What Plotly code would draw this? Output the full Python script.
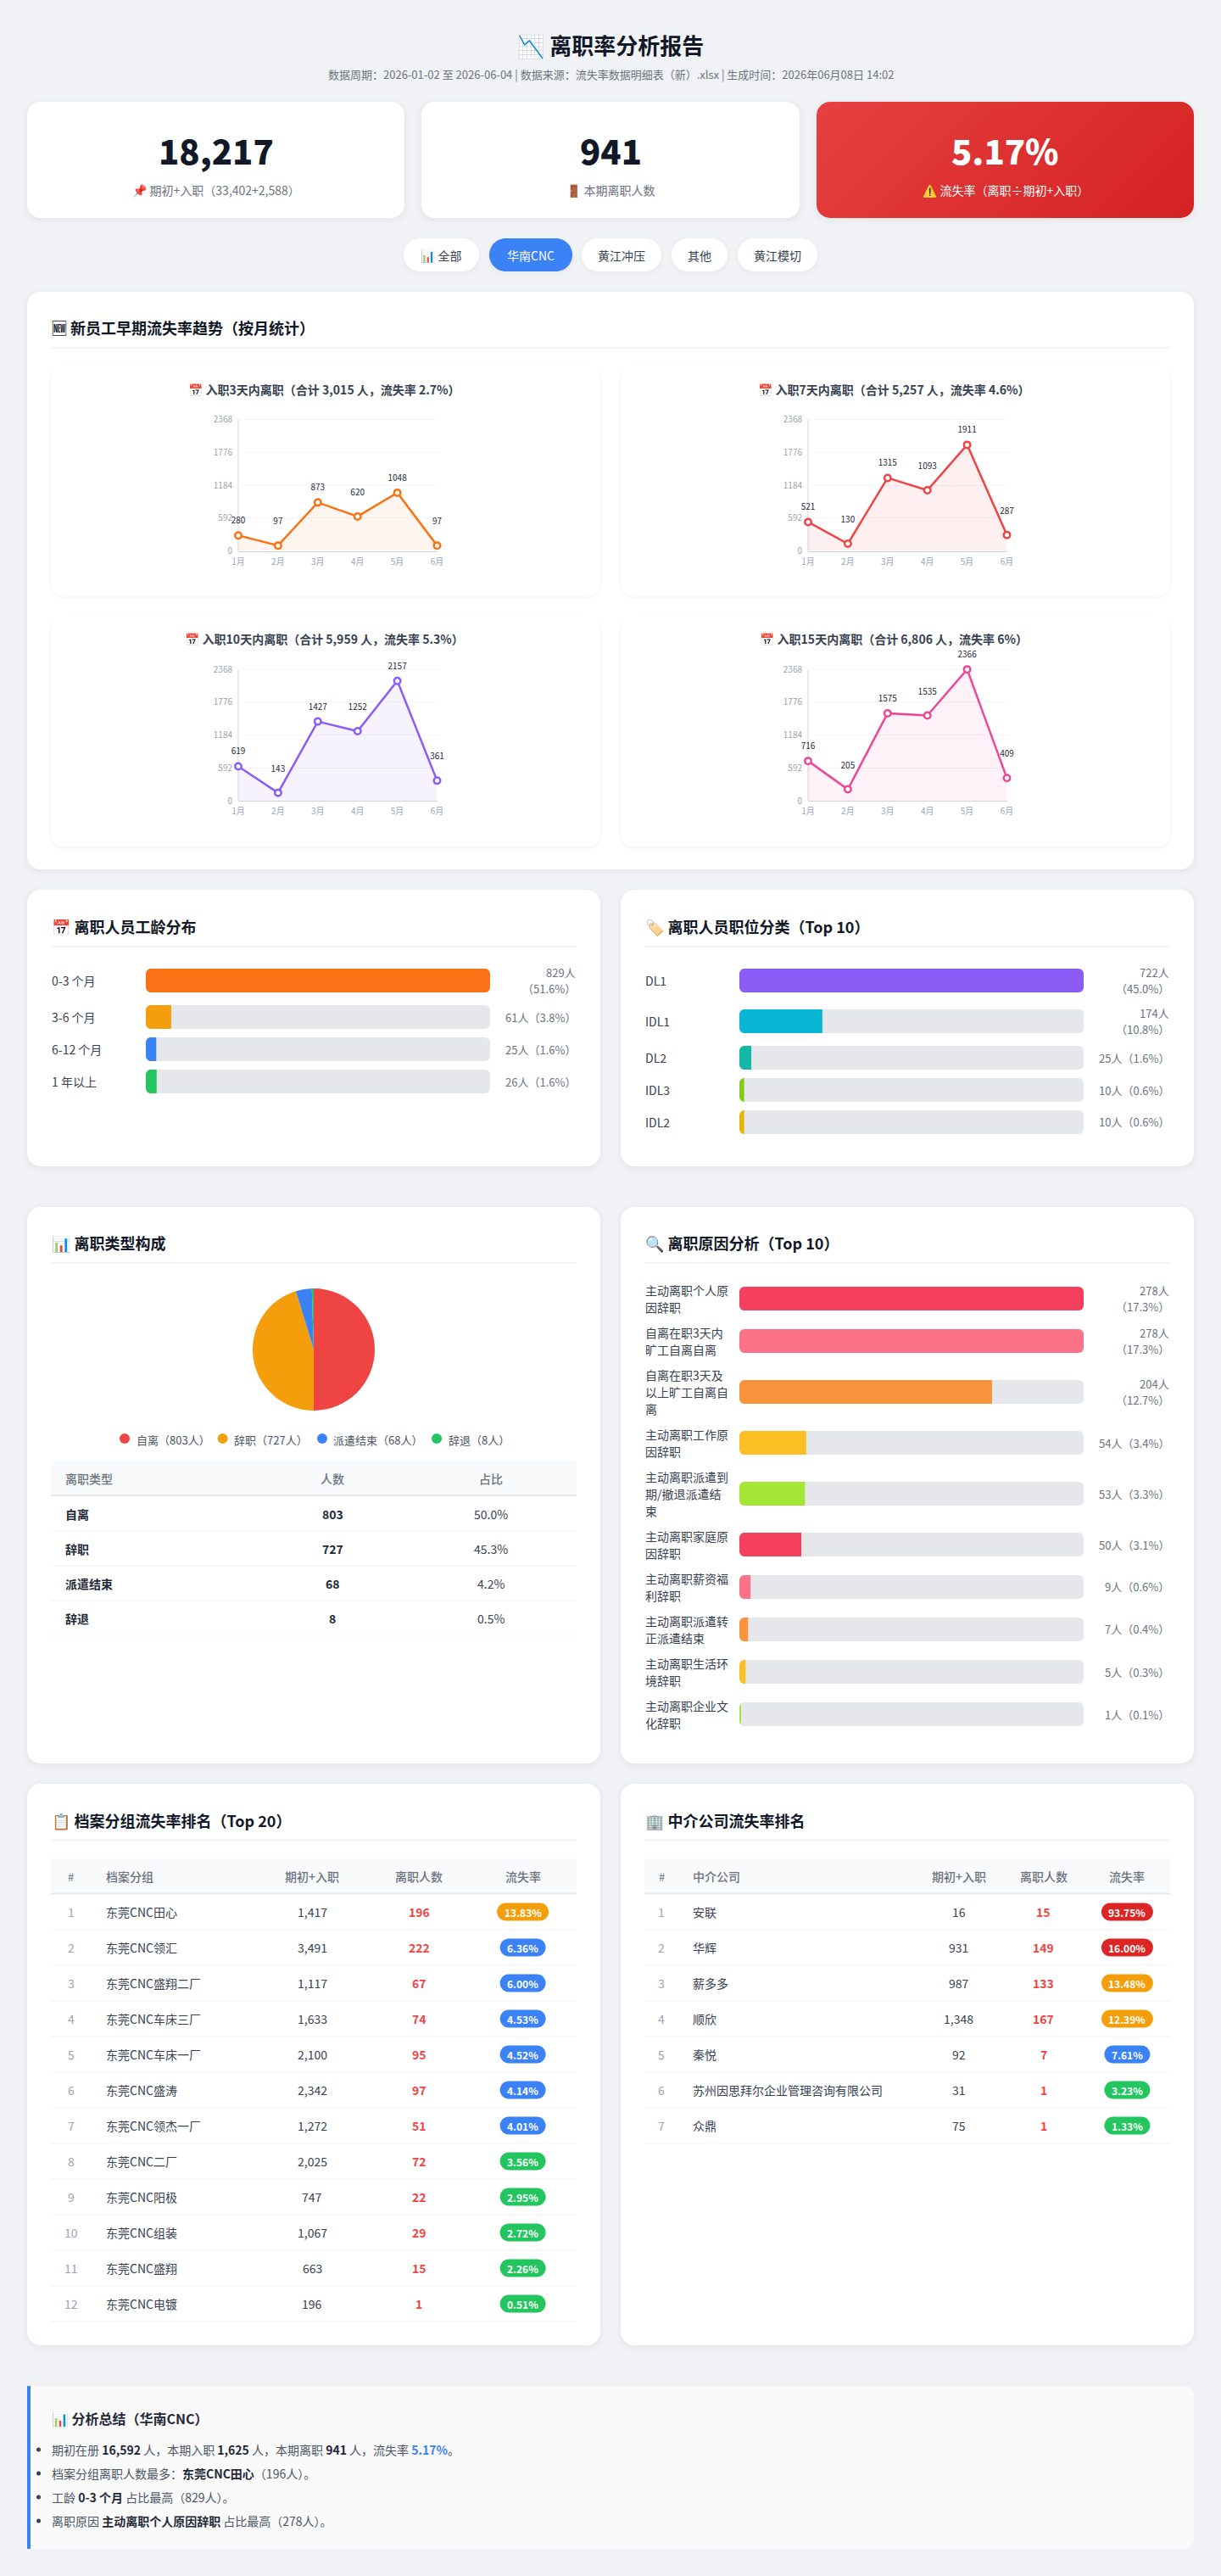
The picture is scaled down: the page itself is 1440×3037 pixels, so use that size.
import base64

import plotly.graph_objects as go

W, H = 1440, 3037
FONT = "Noto Sans CJK SC, Noto Color Emoji, sans-serif"

# data
months = ["1月", "2月", "3月", "4月", "5月", "6月"]
y_ticks = [0, 592, 1184, 1776, 2368]
early_titles = [
    "📅 入职3天内离职（合计 3,015 人，流失率 2.7%）",
    "📅 入职7天内离职（合计 5,257 人，流失率 4.6%）",
    "📅 入职10天内离职（合计 5,959 人，流失率 5.3%）",
    "📅 入职15天内离职（合计 6,806 人，流失率 6%）",
]
left_3d = [280, 97, 873, 620, 1048, 97]
left_7d = [521, 130, 1315, 1093, 1911, 287]
left_10d = [619, 143, 1427, 1252, 2157, 361]
left_15d = [716, 205, 1575, 1535, 2366, 409]
early_colors = ["#f97316", "#ef4444", "#8b5cf6", "#ec4899"]
early_fills = ["rgba(249,115,22,0.07)", "rgba(239,68,68,0.08)", "rgba(139,92,246,0.08)", "rgba(236,72,153,0.08)"]

tenure_labels = ["0-3 个月", "3-6 个月", "6-12 个月", "1 年以上"]
tenure_values = [829, 61, 25, 26]
tenure_pcts = ["51.6%", "3.8%", "1.6%", "1.6%"]
tenure_colors = ["#f97316", "#f59e0b", "#3b82f6", "#22c55e"]

job_labels = ["DL1", "IDL1", "DL2", "IDL3", "IDL2"]
job_values = [722, 174, 25, 10, 10]
job_pcts = ["45.0%", "10.8%", "1.6%", "0.6%", "0.6%"]
job_colors = ["#8b5cf6", "#06b6d4", "#14b8a6", "#84cc16", "#eab308"]

reason_labels = [
    ["主动离职个人原", "因辞职"],
    ["自离在职3天内", "旷工自离自离"],
    ["自离在职3天及", "以上旷工自离自", "离"],
    ["主动离职工作原", "因辞职"],
    ["主动离职派遣到", "期/撤退派遣结", "束"],
    ["主动离职家庭原", "因辞职"],
    ["主动离职薪资福", "利辞职"],
    ["主动离职派遣转", "正派遣结束"],
    ["主动离职生活环", "境辞职"],
    ["主动离职企业文", "化辞职"],
]
reason_values = [278, 278, 204, 54, 53, 50, 9, 7, 5, 1]
reason_pcts = ["17.3%", "17.3%", "12.7%", "3.4%", "3.3%", "3.1%", "0.6%", "0.4%", "0.3%", "0.1%"]
reason_colors = ["#f43f5e", "#fb7185", "#fb923c", "#fbbf24", "#a3e635"] * 2

type_labels = ["自离", "辞职", "派遣结束", "辞退"]
type_values = [803, 727, 68, 8]
type_pcts = ["50.0%", "45.3%", "4.2%", "0.5%"]
type_colors = ["#ef4444", "#f59e0b", "#3b82f6", "#22c55e"]

group_names = ["东莞CNC田心", "东莞CNC领汇", "东莞CNC盛翔二厂", "东莞CNC车床三厂", "东莞CNC车床一厂", "东莞CNC盛涛",
               "东莞CNC领杰一厂", "东莞CNC二厂", "东莞CNC阳极", "东莞CNC组装", "东莞CNC盛翔", "东莞CNC电镀"]
group_base = [1417, 3491, 1117, 1633, 2100, 2342, 1272, 2025, 747, 1067, 663, 196]
group_left = [196, 222, 67, 74, 95, 97, 51, 72, 22, 29, 15, 1]
group_rate = [13.83, 6.36, 6.00, 4.53, 4.52, 4.14, 4.01, 3.56, 2.95, 2.72, 2.26, 0.51]

agency_names = ["安联", "华辉", "薪多多", "顺欣", "秦悦", "苏州因思拜尔企业管理咨询有限公司", "众鼎"]
agency_base = [16, 931, 987, 1348, 92, 31, 75]
agency_left = [15, 149, 133, 167, 7, 1, 1]
agency_rate = [93.75, 16.00, 13.48, 12.39, 7.61, 3.23, 1.33]

filter_labels = ["📊 全部", "华南CNC", "黄江冲压", "其他", "黄江模切"]
kpi_values = ["18,217", "941", "5.17%"]
kpi_labels = ["📌 期初+入职（33,402+2,588）", "🚪 本期离职人数", "⚠️ 流失率（离职÷期初+入职）"]
B = "<span style='color:#1f2937'><b>{}</b></span>"
summary_lines = [
    f"期初在册 {B.format('16,592')} 人，本期入职 {B.format('1,625')} 人，本期离职 {B.format('941')} 人，流失率 "
    "<span style='color:#3b82f6'><b>5.17%</b></span>。",
    f"档案分组离职人数最多：{B.format('东莞CNC田心')}（196人）。",
    f"工龄 {B.format('0-3 个月')} 占比最高（829人）。",
    f"离职原因 {B.format('主动离职个人原因辞职')} 占比最高（278人）。",
]

shapes, notes = [], []


def px(x):
    return x / W


def py(y):
    return 1 - y / H


def text(x, y, s, size=14, color="#374151", weight=400, anchor="left"):
    notes.append(dict(x=px(x), y=py(y), xref="paper", yref="paper", text=s, showarrow=False,
                      xanchor=anchor, yanchor="middle", borderpad=0,
                      font=dict(family=FONT, size=size, color=color, weight=weight)))


def rrect_path(x0, y0, x1, y1, r):
    k = r * 0.4477
    p = [f"M {px(x0 + r)} {py(y0)}", f"L {px(x1 - r)} {py(y0)}",
         f"C {px(x1 - k)} {py(y0)} {px(x1)} {py(y0 + k)} {px(x1)} {py(y0 + r)}",
         f"L {px(x1)} {py(y1 - r)}",
         f"C {px(x1)} {py(y1 - k)} {px(x1 - k)} {py(y1)} {px(x1 - r)} {py(y1)}",
         f"L {px(x0 + r)} {py(y1)}",
         f"C {px(x0 + k)} {py(y1)} {px(x0)} {py(y1 - k)} {px(x0)} {py(y1 - r)}",
         f"L {px(x0)} {py(y0 + r)}",
         f"C {px(x0)} {py(y0 + k)} {px(x0 + k)} {py(y0)} {px(x0 + r)} {py(y0)} Z"]
    return " ".join(p)


def rrect(x0, y0, x1, y1, r, fill, layer="below"):
    shapes.append(dict(type="path", path=rrect_path(x0, y0, x1, y1, r), xref="paper", yref="paper",
                       fillcolor=fill, line=dict(width=0), layer=layer))


def rect(x0, y0, x1, y1, fill, layer="below"):
    shapes.append(dict(type="rect", xref="paper", yref="paper", x0=px(x0), x1=px(x1), y0=py(y0), y1=py(y1),
                       fillcolor=fill, line=dict(width=0), layer=layer))


def card(x0, y0, x1, y1, r=16, fill="#ffffff", shadow=True, spread=(6, 4, 2, 1)):
    if shadow:
        for s in spread:
            rrect(x0 - s, y0 - s + 2, x1 + s, y1 + s + 2, r + s, "rgba(0,0,0,0.007)")
    if fill:
        rrect(x0, y0, x1, y1, r, fill)


def section_title(x, y, s, x1):
    text(x, y, s, size=18, color="#111827", weight=700)
    rect(x, y + 23, x1, y + 25, "#f3f4f6")


def mask_left_corners(x0, yc, h=28, r=6):
    # the track clips the fill on the left, plotly only rounds the tip of a bar
    k = r * 0.4477
    for sign in (-1, 1):
        y0 = yc + sign * h / 2
        path = (f"M {px(x0)} {py(y0)} L {px(x0 + r)} {py(y0)} "
                f"C {px(x0 + k)} {py(y0)} {px(x0)} {py(y0 - sign * k)} {px(x0)} {py(y0 - sign * r)} Z")
        shapes.append(dict(type="path", path=path, xref="paper", yref="paper", fillcolor="#ffffff",
                           line=dict(width=0), layer="above"))


def rate_color(rate):
    if rate >= 15:
        return "#dc2626"
    if rate >= 10:
        return "#f59e0b"
    if rate >= 4:
        return "#3b82f6"
    return "#22c55e"


fig = go.Figure()

# page header
text(W / 2, 52, "📉 离职率分析报告", size=26, color="#111827", weight=700, anchor="center")
text(W / 2, 87, "数据周期：2026-01-02 至 2026-06-04 | 数据来源：流失率数据明细表（新）.xlsx | 生成时间：2026年06月08日 14:02",
     size=13, color="#6b7280", anchor="center")

# kpi cards
kpi_x = [(32, 477), (497, 943), (963, 1408)]
for i, (x0, x1) in enumerate(kpi_x):
    if i < 2:
        card(x0, 120, x1, 257)
    else:
        card(x0, 120, x1, 257, fill=None)
    col = "#ffffff" if i == 2 else "#111827"
    text((x0 + x1) / 2, 177, kpi_values[i], size=40, color=col, weight=800, anchor="center")
    text((x0 + x1) / 2, 224, kpi_labels[i], size=14, color="#ffffff" if i == 2 else "#6b7280", anchor="center")

svg = ('<svg xmlns="http://www.w3.org/2000/svg" width="445" height="137">'
       '<defs><linearGradient id="g" gradientUnits="userSpaceOnUse" x1="77" y1="-77" x2="368" y2="214">'
       '<stop offset="0" stop-color="#ef4444"/><stop offset="1" stop-color="#dc2626"/></linearGradient></defs>'
       '<rect width="445" height="137" rx="16" fill="url(#g)"/></svg>')
red_src = "data:image/svg+xml;base64," + base64.b64encode(svg.encode()).decode()

# filter buttons
filter_x = [(476, 565), (577, 675), (686, 780), (792, 858), (870, 964)]
for i, (x0, x1) in enumerate(filter_x):
    active = i == 1
    card(x0, 281, x1, 320, r=19.5, fill="#3b82f6" if active else "#ffffff", spread=(4, 2, 1))
    text((x0 + x1) / 2, 301, filter_labels[i], size=14, color="#ffffff" if active else "#374151", anchor="center")

# early attrition section
card(32, 344, 1408, 1025)
section_title(60, 386, "🆕 新员工早期流失率趋势（按月统计）", 1380)

early_series = [left_3d, left_7d, left_10d, left_15d]
early_boxes = [(60, 431.5), (732, 431.5), (60, 726), (732, 726)]
plot_h = 155
head_room = 30  # room above the axis so the top labels are not dropped by plotly
y_top = 2368 * (plot_h + head_room) / plot_h
label_px = [16.5, 27.5] * 3  # labels alternate between two heights above the point
for i, series in enumerate(early_series):
    x0, y0 = early_boxes[i]
    card(x0, y0, x0 + 648, y0 + 271, r=14, spread=(3, 2, 1))
    text(x0 + 322, y0 + 27, early_titles[i], size=14, color="#374151", weight=600, anchor="center")
    ax_x0, ax_x1 = x0 + 221, x0 + 455.5
    ax_y0, ax_y1 = y0 + 63, y0 + 63 + plot_h
    rect(ax_x0 - 0.5, ax_y0, ax_x0 + 0.5, ax_y1, "#d1d5db")
    n = i + 2
    fig.add_trace(go.Scatter(
        x=months, y=series, mode="lines+markers",
        line=dict(color=early_colors[i], width=2.5), fill="tozeroy", fillcolor=early_fills[i],
        marker=dict(size=7.5, color="#ffffff", line=dict(color=early_colors[i], width=2.5)),
        cliponaxis=False, showlegend=False, xaxis=f"x{n + 2}", yaxis=f"y{n}",
    ))
    fig.add_trace(go.Scatter(
        x=months, y=[v + g * 2368 / plot_h for v, g in zip(series, label_px)], mode="text",
        text=[str(v) for v in series],
        textposition="middle center", textfont=dict(family=FONT, size=10, color="#1f2937"),
        cliponaxis=False, showlegend=False, hoverinfo="skip", xaxis=f"x{n + 2}", yaxis=f"y{n}",
    ))
    fig.update_layout(**{
        f"xaxis{n + 2}": dict(domain=[px(ax_x0), px(ax_x1)], anchor=f"y{n}", type="category", range=[0, 5],
                              showline=True, linecolor="#d1d5db", linewidth=1, showgrid=False, zeroline=False,
                              ticks="outside", ticklen=3, tickcolor="rgba(0,0,0,0)", automargin=False,
                              tickfont=dict(family=FONT, size=10, color="#9ca3af")),
        f"yaxis{n}": dict(domain=[py(ax_y1), py(ax_y0 - head_room)], anchor=f"x{n + 2}", range=[0, y_top], tickvals=y_ticks,
                          showline=False, showgrid=True, gridcolor="#f3f4f6",
                          zeroline=False, ticks="outside", ticklen=4, tickcolor="rgba(0,0,0,0)", automargin=False,
                          tickfont=dict(family=FONT, size=10, color="#9ca3af")),
    })

# the top of the 2366 label is cut off by the chart box
rect(1030, 762, 1130, 770, "#ffffff", layer="above")


def add_bar_panel(values, centers, colors, axis, x0, x1):
    top = max(values)
    fig.add_trace(go.Bar(x=[top] * len(values), y=centers, width=28, orientation="h", showlegend=False,
                         marker=dict(color="#e5e7eb", cornerradius=6), xaxis=axis, yaxis="y", hoverinfo="skip"))
    fig.add_trace(go.Bar(x=values, y=centers, width=28, orientation="h", showlegend=False,
                         marker=dict(color=colors, cornerradius=6), xaxis=axis, yaxis="y"))
    name = "xaxis" if axis == "x" else "xaxis" + axis[1:]
    fig.update_layout(**{name: dict(domain=[px(x0), px(x1)], range=[0, top], visible=False, anchor="y", automargin=False)})
    for yc in centers:
        mask_left_corners(x0, yc)


def value_text(x, yc, value, pct, two_lines):
    if two_lines:
        text(x, yc - 9.5, f"{value}人", size=13, color="#6b7280", anchor="right")
        text(x, yc + 9.5, f"（{pct}）", size=13, color="#6b7280", anchor="right")
    else:
        text(x, yc, f"{value}人（{pct}）", size=13, color="#6b7280", anchor="right")


# tenure panel
card(32, 1049, 708, 1375)
section_title(60, 1092, "📅 离职人员工龄分布", 680)
tenure_y = [1156, 1199, 1237, 1275]
add_bar_panel(tenure_values, tenure_y, tenure_colors, "x", 172, 578)
for i, yc in enumerate(tenure_y):
    text(60, yc, tenure_labels[i], size=14)
    value_text(680, yc, tenure_values[i], tenure_pcts[i], tenure_values[i] >= 100)

# job panel
card(732, 1049, 1408, 1375)
section_title(760, 1092, "🏷️ 离职人员职位分类（Top 10）", 1380)
job_y = [1156, 1204, 1247, 1285, 1323]
add_bar_panel(job_values, job_y, job_colors, "x2", 872, 1278)
for i, yc in enumerate(job_y):
    text(760, yc, job_labels[i], size=14)
    value_text(1380, yc, job_values[i], job_pcts[i], job_values[i] >= 100)

# type panel
card(32, 1423, 708, 2079)
section_title(60, 1465, "📊 离职类型构成", 680)
fig.add_trace(go.Pie(labels=type_labels, values=type_values, sort=False, direction="clockwise", rotation=0,
                     marker=dict(colors=type_colors, line=dict(width=0)), textinfo="none", showlegend=False,
                     domain=dict(x=[px(298), px(442)], y=[py(1663), py(1519)])))
legend_dots = [147, 262.6, 380, 515]
for i, cx in enumerate(legend_dots):
    shapes.append(dict(type="circle", xref="paper", yref="paper", x0=px(cx - 6), x1=px(cx + 6), y0=py(1702), y1=py(1690),
                       fillcolor=type_colors[i], line=dict(width=0), layer="below"))
    text(cx + 12.5, 1697, f"{type_labels[i]}（{type_values[i]}人）", size=13, color="#4b5563")

rect(60, 1722, 680, 1762, "#f9fafb")
rect(60, 1762, 680, 1764, "#e5e7eb")
text(76, 1742.5, "离职类型", size=14, color="#6b7280", weight=500)
text(392.5, 1742.5, "人数", size=14, color="#6b7280", weight=500, anchor="center")
text(578.7, 1742.5, "占比", size=14, color="#6b7280", weight=500, anchor="center")
for i in range(len(type_labels)):
    yc = 1785 + 41 * i
    text(76, yc, type_labels[i], size=14, color="#1f2937", weight=700)
    text(392.5, yc, str(type_values[i]), size=14, color="#1f2937", weight=700, anchor="center")
    text(578.7, yc, type_pcts[i], size=14, color="#374151", anchor="center")
    rect(60, yc + 19.5, 680, yc + 20.5, "#f3f4f6")

# reason panel
card(732, 1423, 1408, 2079)
section_title(760, 1465, "🔍 离职原因分析（Top 10）", 1380)
reason_y = [1531, 1581, 1641, 1701, 1761, 1821, 1871, 1921, 1971, 2021]
add_bar_panel(reason_values, reason_y, reason_colors, "x3", 872, 1278)
for i, yc in enumerate(reason_y):
    lines = reason_labels[i]
    for j, line in enumerate(lines):
        text(760, yc + (j - (len(lines) - 1) / 2) * 20, line, size=14)
    value_text(1380, yc, reason_values[i], reason_pcts[i], reason_values[i] >= 100)


def rank_table(x0, x1, names, base, left, rates, head, col_rank, col_name, col_base, col_left, col_rate):
    rect(x0, 2191, x1, 2231.5, "#f9fafb")
    rect(x0, 2231.5, x1, 2233.5, "#e5e7eb")
    text(col_rank, 2212, "#", size=13, color="#6b7280", anchor="center")
    text(col_name, 2212, head, size=14, color="#6b7280", weight=500)
    text(col_base, 2212, "期初+入职", size=14, color="#6b7280", weight=500, anchor="center")
    text(col_left, 2212, "离职人数", size=14, color="#6b7280", weight=500, anchor="center")
    text(col_rate, 2212, "流失率", size=14, color="#6b7280", weight=500, anchor="center")
    for i, name in enumerate(names):
        yc = 2254 + 42 * i
        text(col_rank, yc, str(i + 1), size=14, color="#9ca3af", anchor="center")
        text(col_name, yc, name, size=14, color="#374151")
        text(col_base, yc, f"{base[i]:,}", size=14, color="#374151", anchor="center")
        text(col_left, yc, str(left[i]), size=14, color="#ef4444", weight=700, anchor="center")
        label = f"{rates[i]:.2f}%"
        half = 30.5 if len(label) == 6 else 27
        rrect(col_rate - half, yc - 10.5, col_rate + half, yc + 10.5, 10.5, rate_color(rates[i]))
        text(col_rate, yc + 0.5, label, size=12, color="#ffffff", weight=600, anchor="center")
        rect(x0, yc + 20.5, x1, yc + 21.5, "#f3f4f6")


# ranking panels
card(32, 2103, 708, 2765)
section_title(60, 2145.5, "📋 档案分组流失率排名（Top 20）", 680)
rank_table(60, 680, group_names, group_base, group_left, group_rate, "档案分组", 83.6, 124, 368, 494, 616.6)

card(732, 2103, 1408, 2765)
section_title(760, 2145.5, "🏢 中介公司流失率排名", 1380)
rank_table(760, 1380, agency_names, agency_base, agency_left, agency_rate, "中介公司", 780, 816.4, 1130.7, 1230.7, 1329.4)

# summary box
rrect(36, 2813, 1408, 3005, 12, "#fafafb")
rect(36, 2813, 60, 3005, "#fafafb")
rect(32, 2813, 36, 3005, "#3b82f6")
text(60, 2850.5, "📊 分析总结（华南CNC）", size=16, color="#1f2937", weight=700)
for i, line in enumerate(summary_lines):
    yc = 2888 + 28 * i
    shapes.append(dict(type="circle", xref="paper", yref="paper", x0=px(43), x1=px(48), y0=py(yc + 2.5), y1=py(yc - 2.5),
                       fillcolor="#374151", line=dict(width=0), layer="below"))
    text(60, yc, line, size=14, color="#4b5563")

fig.update_layout(
    template="none", width=W, height=H, margin=dict(l=0, r=0, t=0, b=0, pad=0),
    paper_bgcolor="#f0f2f5", plot_bgcolor="rgba(0,0,0,0)",
    barmode="overlay", showlegend=False, font=dict(family=FONT), shapes=shapes, annotations=notes,
    yaxis=dict(domain=[0, 1], range=[H, 0], visible=False, anchor="x", automargin=False),
    images=[dict(source=red_src, xref="paper", yref="paper", x=px(963), y=py(120), sizex=445 / W, sizey=137 / H,
                 xanchor="left", yanchor="top", sizing="stretch", layer="below")],
)

# no default 8px body margin, the page is the same size as the figure
fig.write_html("out.html", config=dict(displayModeBar=False), post_script="document.body.style.margin='0';")
